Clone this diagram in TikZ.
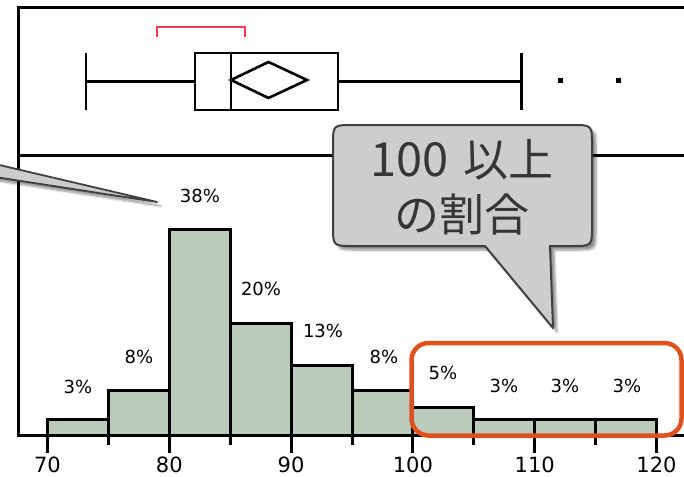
\documentclass[tikz,border=0pt]{standalone}
\usepackage{fontspec}
\setmainfont{DejaVu Sans}
\newfontfamily\cjk{Noto Sans CJK JP}
\usetikzlibrary{shadows.blur}
\definecolor{barfill}{HTML}{BACBBC}
\definecolor{brk}{HTML}{EE3B4E}
\definecolor{hl}{HTML}{E2501F}
\definecolor{callfill}{HTML}{CDCDCD}
\definecolor{calldraw}{HTML}{404040}
\definecolor{calltext}{HTML}{363636}
\tikzset{
  frameline/.style={line width=3pt},
  bar/.style={fill=barfill, draw=black, line width=3pt},
  bpline/.style={line width=2.6pt},
  pct/.style={font=\fontsize{18}{20}\selectfont, inner sep=0pt, anchor=center},
  axlab/.style={font=\fontsize{21}{24}\selectfont, inner sep=0pt, anchor=base},
  callout/.style={fill=callfill, draw=calldraw, line width=2pt, line join=round,
     blur shadow={shadow xshift=4pt, shadow yshift=-4pt, shadow blur steps=8, shadow opacity=45}},
}
\begin{document}
\begin{tikzpicture}[x=1pt, y=-1pt]
\useasboundingbox (0,0) rectangle (684,476);
% frame
\draw[frameline] (684,7.5) -- (18,7.5) -- (18,435) -- (684,435);
\draw[frameline] (18,155) -- (684,155);
% bars
\foreach \a/\b/\t [count=\i] in {47.5/108.4/419, 108.4/169.3/390, 169.3/230.2/229,
   230.2/291.1/323, 291.1/352/365, 352/412.9/390, 412.9/473.8/407,
   473.8/534.7/419, 534.7/595.6/419, 595.6/656.5/419}
  \draw[bar] (\a,435) rectangle (\b,\t);
\draw[frameline] (18,435) -- (684,435);
% ticks
\foreach \x in {47.5,169.3,291.1,412.9,534.7,656.5}
  \draw[frameline] (\x,435) -- (\x,453);
\foreach \x in {108.4,230.2,352,473.8,595.6}
  \draw[frameline] (\x,435) -- (\x,445);
% axis labels
\node[axlab] (l70) at (47.5,472) {70};
\node[axlab] (l80) at (169.3,472) {80};
\node[axlab] (l90) at (291.1,472) {90};
\node[axlab] (l100) at (412.9,472) {100};
\node[axlab] (l110) at (534.7,472) {110};
\node[axlab] (l120) at (656.5,472) {120};
% percentage labels
\node[pct] (p1) at (78,387) {3\%};
\node[pct] (p2) at (139,357) {8\%};
\node[pct] (p3) at (200,196) {38\%};
\node[pct] (p4) at (261,289) {20\%};
\node[pct] (p5) at (323,331) {13\%};
\node[pct] (p6) at (384,357) {8\%};
\node[pct] (p7) at (443,373) {5\%};
\node[pct] (p8) at (504,386) {3\%};
\node[pct] (p9) at (565,386) {3\%};
\node[pct] (p10) at (627,386) {3\%};
% box plot
\draw[bpline] (86,53) -- (86,110);
\draw[bpline] (86,81.5) -- (195,81.5);
\draw[bpline] (338,81.5) -- (521.7,81.5);
\draw[bpline] (521.7,53) -- (521.7,110);
\draw[bpline] (195,53) rectangle (338,110);
\draw[bpline] (231,53) -- (231,110);
\draw[bpline, line join=miter] (231,80) -- (268.5,62) -- (307,80) -- (268.5,98) -- cycle;
\fill (557.5,78.5) rectangle (562.5,83.5);
\fill (615.5,78.5) rectangle (620.5,83.5);
% red bracket
\draw[brk, line width=2.6pt] (157,37) -- (157,27) -- (245,27) -- (245,37);
% highlight box
\draw[hl, line width=4.5pt, rounded corners=17pt] (411.5,343) rectangle (681.5,435.5);
% left callout wedge
\draw[callout, line width=1.8pt] (-5,164) -- (157,202) -- (-5,177) -- cycle;
% main callout
\draw[callout] (485,246) -- (353,246) .. controls (333,246) .. (333,226)
   -- (333,145) .. controls (333,125) .. (353,125)
   -- (572,125) .. controls (592,125) .. (592,145)
   -- (592,226) .. controls (592,246) .. (572,246)
   -- (550,246) -- (553,328) -- cycle;
\node[font=\cjk\fontsize{45}{55}\selectfont, text=calltext, align=center, inner sep=0pt]
   (ct) at (462,187) {{\fontsize{47}{55}\selectfont 100}\hspace{15pt}以上\\の割合};
\end{tikzpicture}
\end{document}
